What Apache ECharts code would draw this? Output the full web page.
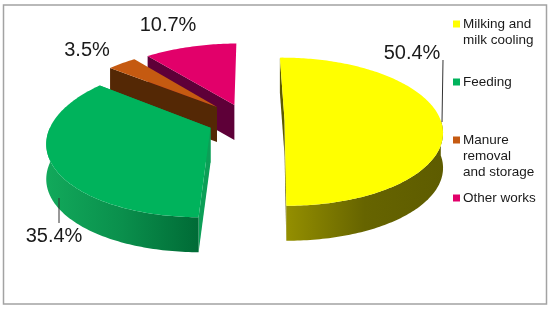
<!DOCTYPE html>
<html>
<head>
<meta charset="utf-8">
<style>
  html, body { margin: 0; padding: 0; background: #fff; }
  #chart { width: 550px; height: 309px; }
</style>
<script src="https://cdn.jsdelivr.net/npm/echarts@6/dist/echarts.min.js"></script>
</head>
<body>
<div id="chart"></div>
<script>
var categories = ["Milking and\nmilk cooling", "Feeding", "Manure\nremoval\nand storage", "Other works"];
var shares = [50.4, 35.4, 3.5, 10.7];

// look of each slice, same order as the categories
var topColors = ["#ffff00", "#00b35c", "#c55a11", "#e2006a"];
var edgeColors = ["#5c5a00", "#0c9f57", "#542805", "#5e0038"];
var rimStops = [["#948f00", "#666400", "#5e5c00"], ["#12a95b", "#0a8f4c", "#006b36"], ["#542805", "#542805", "#542805"], ["#5e0038", "#5e0038", "#5e0038"]];

// where each exploded slice sits on the pie plane, before perspective
var sliceCentres = [[18, -25], [-57, -9], [-52.7, -55.5], [-34.5, -60]];
var sliceRadii = [160, 162, 162, 168];
var labelSpots = [[412, 53], [54, 236], [87, 50], [168, 25]];
var legendRows = [24, 82, 140, 198];
var leaders = [[[443, 60], [442, 122]], [[59, 198], [59, 223]], null, null];

var DEPTH = 35, ROTATION = -1;
var VANISH_X = 267, HORIZON = -356, PLANE = 488, PERSPECTIVE = 0.000972;
var FONT = "Liberation Sans, Arial, sans-serif";

function project(x, v, drop) {
  var s = 1 / (1 - PERSPECTIVE * v);
  return [VANISH_X + x * s, HORIZON + PLANE * s + drop];
}

function rimPoint(i, deg, drop) {
  var a = deg * Math.PI / 180;
  var c = sliceCentres[i], r = sliceRadii[i];
  return project(c[0] + r * Math.sin(a), c[1] - r * Math.cos(a), drop);
}

function arc(i, from, to, drop) {
  var pts = [];
  for (var d = from; d < to; d += 1) {
    pts.push(rimPoint(i, d, drop));
  }
  pts.push(rimPoint(i, to, drop));
  return pts;
}

function poly(points, fill, z) {
  return { type: "polygon", shape: { points: points }, style: { fill: fill, stroke: null }, z2: z, silent: true };
}

function sliceFaces(i, from, to) {
  var c = sliceCentres[i];
  var z = (categories.length - i) * 10;
  var apex = project(c[0], c[1], 0);
  var apexLow = project(c[0], c[1], DEPTH);
  var faces = [];

  // radial walls, the two back slices only show their left one
  var walls = i >= 2 ? [from] : [from, to];
  walls.forEach(function (deg) {
    faces.push(poly([apex, rimPoint(i, deg, 0), rimPoint(i, deg, DEPTH), apexLow], edgeColors[i], z));
  });

  // outer wall, only its front part can show
  var frontFrom = Math.max(from, 90), frontTo = Math.min(to, 270);
  if (frontFrom < frontTo) {
    var wall = arc(i, frontFrom, frontTo, 0).concat(arc(i, frontFrom, frontTo, DEPTH).reverse());
    var g = rimStops[i];
    var fill = new echarts.graphic.LinearGradient(0, 0, 1, 0, [
      { offset: 0, color: g[0] }, { offset: 0.5, color: g[1] }, { offset: 1, color: g[2] }
    ]);
    faces.push(poly(wall, fill, z + 1));
  }

  faces.push(poly([apex].concat(arc(i, from, to, 0)), topColors[i], z + 2));
  return faces;
}

function renderSlice(params, api) {
  var i = params.dataIndex;
  var total = shares.reduce(function (a, b) { return a + b; }, 0);
  var from = ROTATION;
  for (var k = 0; k < i; k++) {
    from += shares[k] / total * 360;
  }
  var to = from + api.value(0) / total * 360;
  var children = sliceFaces(i, from, to);

  children.push({
    type: "text", z2: 100, silent: true,
    style: {
      text: api.value(0).toFixed(1) + "%", x: labelSpots[i][0], y: labelSpots[i][1],
      fill: "#1a1a1a", font: "20px " + FONT, align: "center", verticalAlign: "middle"
    }
  });
  if (leaders[i]) {
    children.push({
      type: "line", z2: 100, silent: true,
      shape: { x1: leaders[i][0][0], y1: leaders[i][0][1], x2: leaders[i][1][0], y2: leaders[i][1][1] },
      style: { stroke: "#333333", lineWidth: 1 }
    });
  }

  // legend key and text, key lines up with the first text row
  children.push({
    type: "rect", z2: 100, silent: true,
    shape: { x: 453, y: legendRows[i] - 3.5, width: 7, height: 7 },
    style: { fill: topColors[i] }
  });
  children.push({
    type: "text", z2: 100, silent: true,
    style: {
      text: categories[i], x: 463, y: legendRows[i] - 7.5,
      fill: "#1a1a1a", font: "13.5px " + FONT, lineHeight: 16, align: "left", verticalAlign: "top"
    }
  });

  return { type: "group", children: children };
}

var myChart = echarts.init(document.getElementById("chart"), null, { renderer: "canvas" });
myChart.setOption({
  animation: false,
  backgroundColor: "#ffffff",
  graphic: [{
    type: "rect", silent: true, z: -1,
    shape: { x: 3.5, y: 5, width: 543, height: 299 },
    style: { fill: "#ffffff", stroke: "#a3a3a3", lineWidth: 1.5 }
  }],
  series: [{
    type: "custom",
    coordinateSystem: "none",
    renderItem: renderSlice,
    data: shares.map(function (v) { return [v]; }),
    silent: true
  }]
});
</script>
</body>
</html>
